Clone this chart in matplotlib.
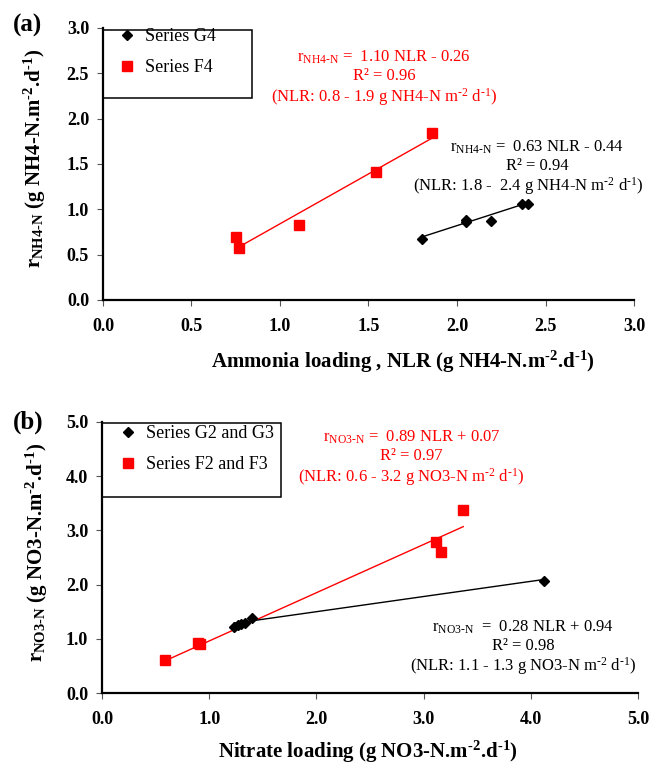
import matplotlib
matplotlib.use("Agg")
import matplotlib.pyplot as plt
import numpy as np
from matplotlib.patches import Rectangle
from matplotlib.ticker import FormatStrFormatter, MultipleLocator

plt.rcParams["font.family"] = ["Liberation Serif", "DejaVu Serif"]
plt.rcParams["mathtext.fontset"] = "custom"
plt.rcParams["mathtext.rm"] = "Liberation Serif"
plt.rcParams["mathtext.bf"] = "Liberation Serif:bold"
plt.rcParams["mathtext.it"] = "Liberation Serif:italic"

# ---- panel (a): ammonia ----
g4_x = [1.80, 2.05, 2.05, 2.19, 2.37, 2.40]
g4_y = [0.67, 0.86, 0.88, 0.87, 1.06, 1.06]
f4_x = [0.75, 0.77, 1.11, 1.54, 1.86]
f4_y = [0.69, 0.57, 0.83, 1.41, 1.84]
g4_fit = (0.63, -0.44)
f4_fit = (1.10, -0.26)

# ---- panel (b): nitrate ----
g23_x = [1.23, 1.27, 1.30, 1.33, 1.40, 4.12]
g23_y = [1.22, 1.25, 1.28, 1.30, 1.38, 2.07]
f23_x = [0.59, 0.90, 0.91, 3.12, 3.16, 3.37]
f23_y = [0.60, 0.92, 0.90, 2.79, 2.60, 3.37]
g23_fit = (0.28, 0.94)
f23_fit = (0.89, 0.07)

RED = "#ff0000"
SUB_NH4 = r"$_{\mathrm{NH4}\text{-}\mathrm{N}}$"
SUB_NO3 = r"$_{\mathrm{NO3}\text{-}\mathrm{N}}$"
UNIT_REG = r"m$^{\text{-}2}$ d$^{\text{-}1}$)"
UNIT_BOLD = r"m$^{\mathbf{\text{-}2}}$.d$^{\mathbf{\text{-}1}}$)"


def fit_line(ax, xs, coef, color):
    x = np.array([min(xs), max(xs)])
    ax.plot(x, coef[0] * x + coef[1], color=color, lw=1.0, zorder=2)


def style_axes(ax, xmax, ymax, step_x, step_y):
    ax.set_xlim(0, xmax)
    ax.set_ylim(0, ymax)
    ax.xaxis.set_major_locator(MultipleLocator(step_x))
    ax.yaxis.set_major_locator(MultipleLocator(step_y))
    ax.xaxis.set_major_formatter(FormatStrFormatter("%.1f"))
    ax.yaxis.set_major_formatter(FormatStrFormatter("%.1f"))
    for s in ("top", "right"):
        ax.spines[s].set_visible(False)
    for s in ("left", "bottom"):
        ax.spines[s].set_linewidth(1.6)
    ax.tick_params(axis="both", direction="out", length=4, width=0.8,
                   color="#555555", labelsize=13)
    ax.tick_params(axis="x", pad=9)
    ax.tick_params(axis="y", pad=6)
    for lab in ax.get_xticklabels() + ax.get_yticklabels():
        lab.set_fontweight("bold")


def legend_box(ax, handles, labels, anchor, rect):
    ax.legend(handles, labels, loc="upper left", bbox_to_anchor=anchor,
              frameon=False, fontsize=13, borderpad=0, handlelength=1.0,
              handletextpad=0.5, labelspacing=0.8, borderaxespad=0)
    ax.add_patch(Rectangle(rect[:2], rect[2], rect[3], transform=ax.transAxes,
                           fill=True, facecolor="white", edgecolor="black",
                           lw=1.1, clip_on=False, zorder=1))


fig = plt.figure(figsize=(6.51, 7.66), dpi=100)

# panel (a)
ax1 = fig.add_axes([0.1582, 0.6084, 0.8157, 0.3551])
ax1.plot(f4_x, f4_y, "s", color=RED, ms=7, zorder=3, label="Series F4")
ax1.plot(g4_x, g4_y, "D", color="black", ms=5.5, zorder=3, label="Series G4")
fit_line(ax1, f4_x[1:], f4_fit, RED)
fit_line(ax1, g4_x[:-1], g4_fit, "black")
style_axes(ax1, 3.0, 3.0, 0.5, 0.5)
h, l = ax1.get_legend_handles_labels()
legend_box(ax1, [h[1], h[0]], [l[1], l[0]], (0.028, 1.0),
           (0.0, 0.743, 0.281, 0.25))

ax1.text(1.587, 2.68, "r" + SUB_NH4 + " =  1.10 NLR - 0.26", color=RED,
         ha="center", va="center", fontsize=12)
ax1.text(1.587, 2.47, "R² = 0.96", color=RED, ha="center", va="center", fontsize=12)
ax1.text(1.587, 2.24, "(NLR: 0.8 - 1.9 g NH4-N " + UNIT_REG, color=RED,
         ha="center", va="center", fontsize=12)
ax1.text(2.452, 1.687, "r" + SUB_NH4 + " =  0.63 NLR - 0.44",
         ha="center", va="center", fontsize=12)
ax1.text(2.452, 1.478, "R² = 0.94", ha="center", va="center", fontsize=12)
ax1.text(2.40, 1.257, "(NLR: 1.8 -  2.4 g NH4-N " + UNIT_REG,
         ha="center", va="center", fontsize=12, clip_on=False)

ax1.set_xlabel("Ammonia loading , NLR (g NH4-N." + UNIT_BOLD,
               fontsize=15, fontweight="bold", va="center")
ax1.xaxis.set_label_coords(0.565, -0.228)
ax1.set_ylabel(r"r$_{\mathbf{NH4}\text{-}\mathbf{N}}$ (g NH4-N." + UNIT_BOLD,
               fontsize=15, fontweight="bold", va="center")
ax1.yaxis.set_label_coords(-0.128, 0.52)

# panel (b)
ax2 = fig.add_axes([0.1567, 0.0953, 0.8233, 0.3538])
ax2.plot(f23_x, f23_y, "s", color=RED, ms=7, zorder=3, label="Series F2 and F3")
ax2.plot(g23_x, g23_y, "D", color="black", ms=5.5, zorder=3, label="Series G2 and G3")
fit_line(ax2, f23_x, f23_fit, RED)
fit_line(ax2, g23_x, g23_fit, "black")
style_axes(ax2, 5.0, 5.0, 1.0, 1.0)
h, l = ax2.get_legend_handles_labels()
legend_box(ax2, [h[1], h[0]], [l[1], l[0]], (0.032, 0.989),
           (0.0, 0.723, 0.334, 0.273))

ax2.text(2.887, 4.72, "r" + SUB_NO3 + " =  0.89 NLR + 0.07", color=RED,
         ha="center", va="center", fontsize=12)
ax2.text(2.887, 4.37, "R² = 0.97", color=RED, ha="center", va="center", fontsize=12)
ax2.text(2.887, 3.985, "(NLR: 0.6 - 3.2 g NO3-N " + UNIT_REG, color=RED,
         ha="center", va="center", fontsize=12)
ax2.text(3.93, 1.218, "r" + SUB_NO3 + "  =  0.28 NLR + 0.94",
         ha="center", va="center", fontsize=12)
ax2.text(3.93, 0.867, "R² = 0.98", ha="center", va="center", fontsize=12)
ax2.text(3.93, 0.498, "(NLR: 1.1 - 1.3 g NO3-N " + UNIT_REG,
         ha="center", va="center", fontsize=12, clip_on=False)

ax2.set_xlabel("Nitrate loading (g NO3-N." + UNIT_BOLD,
               fontsize=15, fontweight="bold", va="center")
ax2.xaxis.set_label_coords(0.496, -0.218)
ax2.set_ylabel(r"r$_{\mathbf{NO3}\text{-}\mathbf{N}}$ (g NO3-N." + UNIT_BOLD,
               fontsize=15, fontweight="bold", va="center")
ax2.yaxis.set_label_coords(-0.122, 0.52)

fig.text(27 / 651, 1 - 25 / 766, "(a)", fontsize=18, fontweight="bold",
         ha="center", va="center")
fig.text(28 / 651, 1 - 422 / 766, "(b)", fontsize=18, fontweight="bold",
         ha="center", va="center")

fig.savefig("out.png", dpi=100)
